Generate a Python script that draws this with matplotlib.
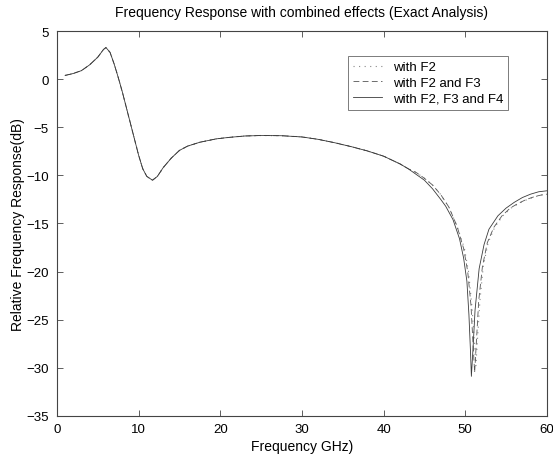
import numpy as np
import matplotlib.pyplot as plt

plt.rcParams['font.family'] = ['Liberation Sans', 'DejaVu Sans']

# shared part of the response (all three curves coincide up to ~43 GHz)
f_common = [1, 2, 3, 4, 5, 5.7, 6.0, 6.5, 7, 7.5, 8, 9, 10, 10.5, 11, 11.7,
            12.3, 13, 14, 15, 16, 17.5, 19.5, 21, 23, 25, 27.5, 30, 32, 34,
            36, 38, 40, 42, 43]
db_common = [0.4, 0.6, 0.9, 1.5, 2.3, 3.1, 3.3, 2.8, 1.6, 0.2, -1.3, -4.6,
             -7.9, -9.3, -10.1, -10.5, -10.1, -9.2, -8.2, -7.4, -6.95, -6.55,
             -6.2, -6.05, -5.9, -5.85, -5.87, -6.0, -6.25, -6.6, -7.0, -7.45,
             -8.0, -8.8, -9.3]

# notch region, one list per case
f_f2 = [44, 45, 46, 47, 48, 49, 49.9, 50.4, 50.8, 51.1, 51.3, 51.5, 51.8,
        52.2, 52.8, 53.6, 54.6, 55.6, 56.6, 57.6, 58.6, 59.6, 60]
db_f2 = [-9.7, -10.3, -11.0, -12.0, -13.3, -15.3, -17.6, -20, -23.5, -27.0,
         -29.8, -27.0, -23, -19.5, -17, -15.4, -14.2, -13.4, -12.9, -12.5,
         -12.2, -12.0, -11.95]

f_f23 = [44, 45, 46, 47, 48, 49, 49.8, 50.3, 50.7, 50.95, 51.15, 51.35,
         51.65, 52.1, 52.7, 53.5, 54.5, 55.5, 56.5, 57.5, 58.5, 59.5, 60]
db_f23 = [-9.7, -10.3, -11.0, -12.0, -13.3, -15.3, -17.6, -20, -23.5, -27.5,
          -30.5, -27.5, -23, -19.5, -17, -15.4, -14.2, -13.4, -12.9, -12.5,
          -12.2, -12.0, -11.95]

f_f234 = [44, 45, 46, 47, 47.6, 48.5, 49.3, 49.8, 50.2, 50.45, 50.65, 50.75,
          50.95, 51.2, 51.7, 52.3, 52.9, 54, 55, 56, 57, 58, 59, 60]
db_f234 = [-9.9, -10.5, -11.4, -12.5, -13.2, -14.6, -16.6, -18.6, -21, -24.5,
           -28.5, -30.9, -28.0, -24, -19.7, -17.2, -15.6, -14.2, -13.4, -12.8,
           -12.3, -11.95, -11.7, -11.6]

fig = plt.figure(figsize=(5.53, 4.60), dpi=100)
ax = fig.add_axes([0.103, 0.094, 0.886, 0.836])

ax.plot(f_common + f_f2, db_common + db_f2, color='#888888', lw=0.8,
        linestyle=(0, (1, 4)), label='with F2')
ax.plot(f_common + f_f23, db_common + db_f23, color='#555555', lw=0.6,
        linestyle=(0, (7, 4)), label='with F2 and F3')
ax.plot(f_common + f_f234, db_common + db_f234, color='#3a3a3a', lw=0.6,
        label='with F2, F3 and F4')

ax.set_xlim(0, 60)
ax.set_ylim(-35, 5)
ax.set_xticks(np.arange(0, 61, 10))
ax.set_yticks(np.arange(-35, 6, 5))
ax.tick_params(direction='in', top=True, right=True, length=4, width=0.6,
               color='#444444', labelsize=9.5)
ax.tick_params(axis='y', pad=6)
ax.tick_params(axis='x', pad=5)
for s in ax.spines.values():
    s.set_color('#444444')
    s.set_linewidth(0.8)

ax.set_title('Frequency Response with combined effects (Exact Analysis)',
             fontsize=10, pad=11)
ax.set_xlabel('Frequency GHz)', fontsize=10, labelpad=3)
ax.set_ylabel('Relative Frequency Response(dB)', fontsize=10, labelpad=1)

leg = ax.legend(loc='upper right', bbox_to_anchor=(0.935, 0.953),
                fontsize=9.5, fancybox=False, framealpha=1,
                edgecolor='#666666', handlelength=2.2, borderpad=0.4,
                labelspacing=0.25)
leg.get_frame().set_linewidth(0.6)

fig.savefig('out.png', dpi=100)
